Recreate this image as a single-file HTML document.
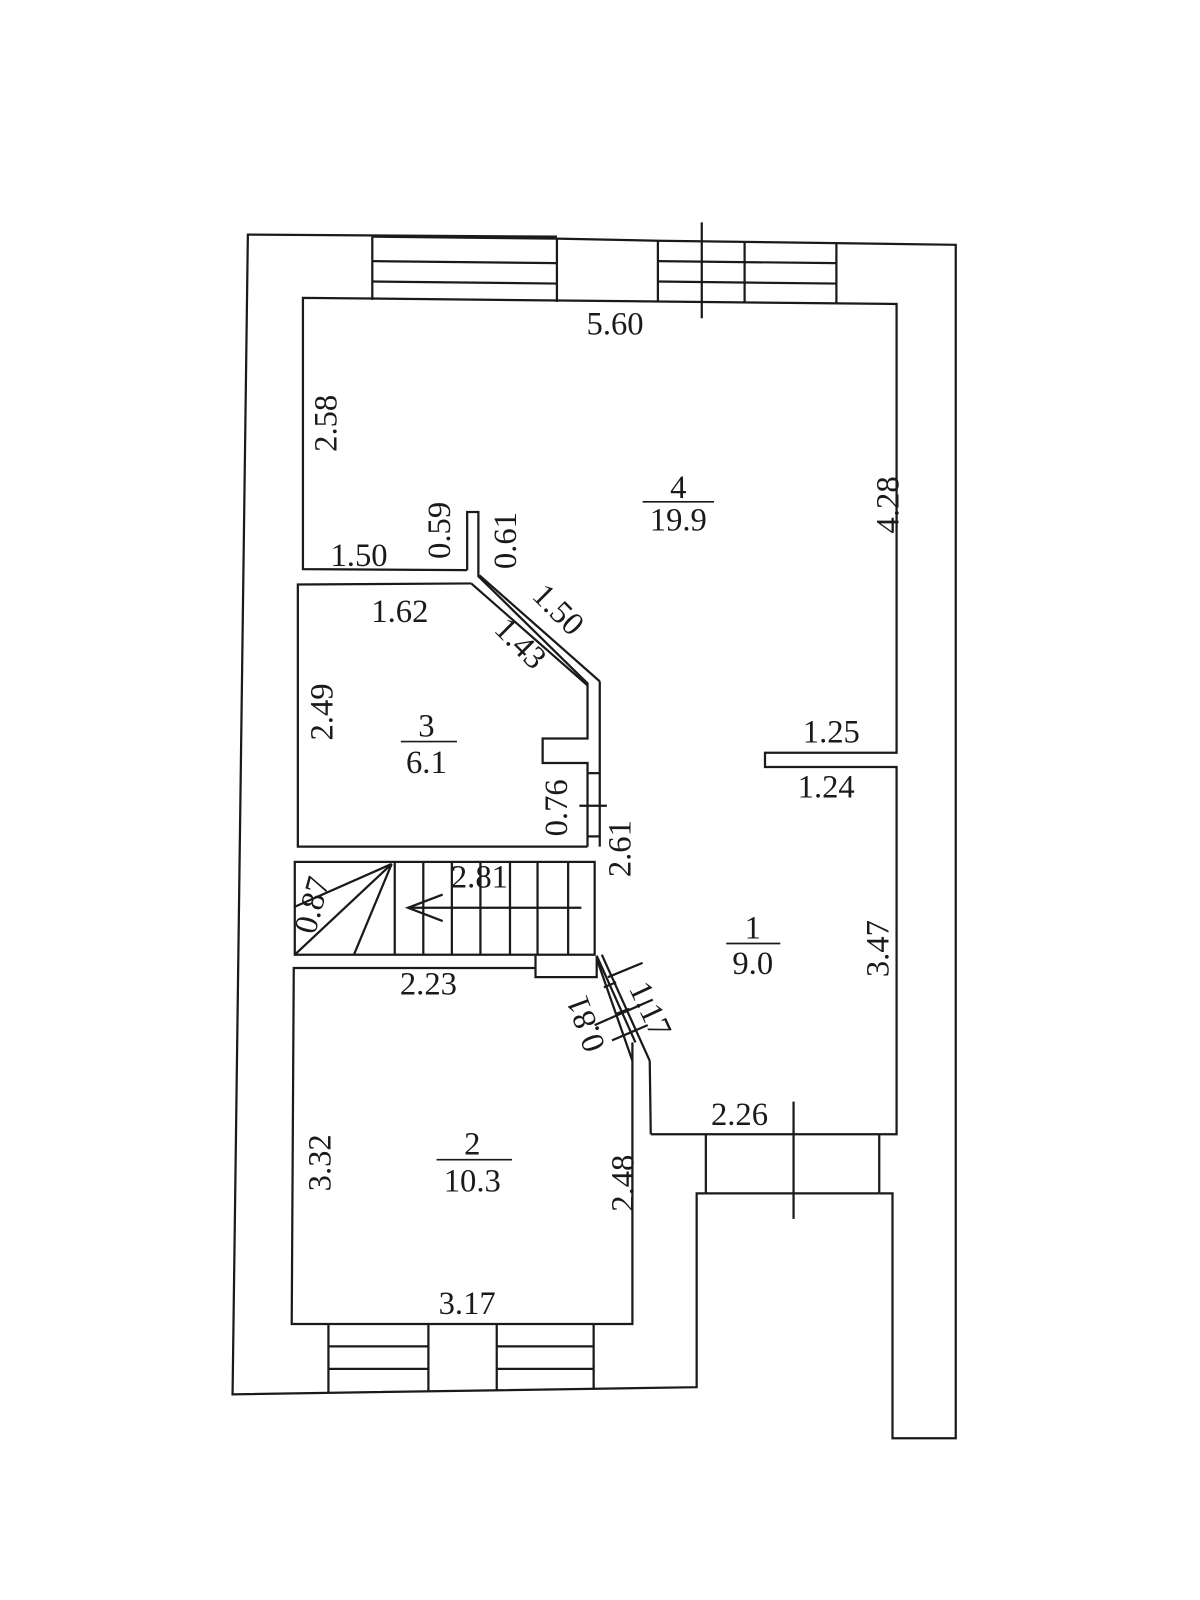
<!DOCTYPE html>
<html><head><meta charset="utf-8"><style>html,body{margin:0;padding:0;background:#fff}svg{display:block}</style></head>
<body>
<svg width="1200" height="1600" viewBox="0 0 1200 1600" xmlns="http://www.w3.org/2000/svg">
<g transform="scale(1.02)" fill="none" stroke="#1a1a1a" stroke-width="2.2" stroke-linejoin="miter">
<!-- outer walls -->
<polyline points="546,232 243,230 228,1367 683,1360 683,1170 692,1170"/>
<polyline points="862,1170 875,1170 875,1410 937,1410 937,240 645,236 546,234"/>
<!-- top windows -->
<line x1="365" y1="232" x2="365" y2="294"/>
<line x1="546" y1="234" x2="546" y2="296"/>
<line x1="365" y1="256" x2="546" y2="258"/>
<line x1="365" y1="276" x2="546" y2="278"/>
<line x1="365" y1="232" x2="546" y2="234"/>
<line x1="645" y1="236" x2="645" y2="296"/>
<line x1="820" y1="238" x2="820" y2="298"/>
<line x1="730" y1="237" x2="730" y2="297"/>
<line x1="688" y1="218" x2="688" y2="312"/>
<line x1="645" y1="256" x2="820" y2="258"/>
<line x1="645" y1="276" x2="820" y2="278"/>
<!-- room 4 -->
<polyline points="458,559 297,558 297,292 879,298 879,738 750,738 750,752 879,752 879,1112 778,1112"/>
<polyline points="458,559 458,502 469,502 469,565 576,670 576,724 532,724 532,748 576,748 576,830"/>
<polyline points="462,572 292,573 292,830 576,830"/>
<polyline points="462,572 576,672"/>
<polyline points="588,668 588,830"/>
<polyline points="470,564 588,668"/>
<line x1="576" y1="758" x2="588" y2="758"/>
<line x1="568" y1="790" x2="595" y2="790"/>
<line x1="576" y1="820" x2="588" y2="820"/>
<!-- stairs -->
<rect x="289" y="845" width="294" height="91"/>
<line x1="387" y1="845" x2="387" y2="936"/>
<line x1="415" y1="845" x2="415" y2="936"/>
<line x1="443" y1="845" x2="443" y2="936"/>
<line x1="471" y1="845" x2="471" y2="936"/>
<line x1="500" y1="845" x2="500" y2="936"/>
<line x1="527" y1="845" x2="527" y2="936"/>
<line x1="557" y1="845" x2="557" y2="936"/>
<line x1="384" y1="847" x2="289" y2="936"/>
<line x1="384" y1="847" x2="347" y2="936"/>
<line x1="384" y1="847" x2="289" y2="889"/>
<line x1="570" y1="890" x2="400" y2="890"/>
<polyline points="434,877 400,890 434,903"/>
<!-- room 2 -->
<polyline points="525,949 288,949 286,1298 322,1298"/>
<polyline points="582,1298 620,1298 620,1040 585,940"/>
<polyline points="525,937 525,958 585,958 585,937"/>
<!-- door diagonal -->
<line x1="585" y1="937" x2="623" y2="1022"/>
<line x1="590" y1="936" x2="637" y2="1040"/>
<line x1="637" y1="1040" x2="638" y2="1112"/>
<line x1="620" y1="1022" x2="620" y2="1040"/>
<line x1="592" y1="968" x2="604" y2="963"/>
<line x1="604" y1="994" x2="617" y2="989"/>
<line x1="583" y1="1005" x2="640" y2="980"/>
<line x1="596" y1="958" x2="630" y2="944"/>
<line x1="600" y1="1020" x2="635" y2="1005"/>
<!-- bottom right bay -->
<polyline points="638,1112 778,1112"/>
<line x1="692" y1="1112" x2="692" y2="1170"/>
<line x1="862" y1="1112" x2="862" y2="1170"/>
<line x1="778" y1="1080" x2="778" y2="1195"/>
<line x1="692" y1="1170" x2="862" y2="1170"/>
<!-- bottom windows -->
<line x1="322" y1="1298" x2="322" y2="1366"/>
<line x1="420" y1="1298" x2="420" y2="1364"/>
<line x1="487" y1="1298" x2="487" y2="1363"/>
<line x1="582" y1="1298" x2="582" y2="1362"/>
<line x1="322" y1="1298" x2="582" y2="1298"/>
<line x1="322" y1="1320" x2="420" y2="1320"/><line x1="487" y1="1320" x2="582" y2="1320"/>
<line x1="322" y1="1342" x2="420" y2="1342"/><line x1="487" y1="1342" x2="582" y2="1342"/>
<!-- fraction lines -->
<line x1="630" y1="492" x2="700" y2="492" stroke-width="1.6"/>
<line x1="393" y1="727" x2="448" y2="727" stroke-width="1.6"/>
<line x1="712" y1="925" x2="765" y2="925" stroke-width="1.6"/>
<line x1="428" y1="1137" x2="502" y2="1137" stroke-width="1.6"/>
</g>
<g transform="scale(1.02)" font-family="'Liberation Serif', serif" font-size="32" fill="#1a1a1a" text-anchor="middle">
<text x="603" y="328">5.60</text>
<text x="665" y="488">4</text><text x="665" y="520">19.9</text>
<text x="418" y="722">3</text><text x="418" y="758">6.1</text>
<text x="738" y="920">1</text><text x="738" y="955">9.0</text>
<text x="463" y="1132">2</text><text x="463" y="1168">10.3</text>
<text x="352" y="555">1.50</text>
<text x="392" y="610">1.62</text>
<text x="815" y="728">1.25</text>
<text x="810" y="782">1.24</text>
<text x="470" y="870">2.81</text>
<text x="420" y="975">2.23</text>
<text x="725" y="1103">2.26</text>
<text x="458" y="1288">3.17</text>
<text transform="translate(330,415) rotate(-90)">2.58</text>
<text transform="translate(881,495) rotate(-90)">4.28</text>
<text transform="translate(441,520) rotate(-90)">0.59</text>
<text transform="translate(506,530) rotate(-90)">0.61</text>
<text transform="translate(540,605) rotate(45)">1.50</text>
<text transform="translate(503,638) rotate(45)">1.43</text>
<text transform="translate(326,698) rotate(-90)">2.49</text>
<text transform="translate(556,792) rotate(-90)">0.76</text>
<text transform="translate(618,832) rotate(-90)">2.61</text>
<text transform="translate(316,890) rotate(-75)">0.87</text>
<text transform="translate(871,930) rotate(-90)">3.47</text>
<text transform="translate(324,1140) rotate(-90)">3.32</text>
<text transform="translate(621,1160) rotate(-90)">2.48</text>
<text transform="translate(584,1000) rotate(-110)">0.81</text>
<text transform="translate(628,994) rotate(65)">1.17</text>
</g>
</svg>
</body></html>
